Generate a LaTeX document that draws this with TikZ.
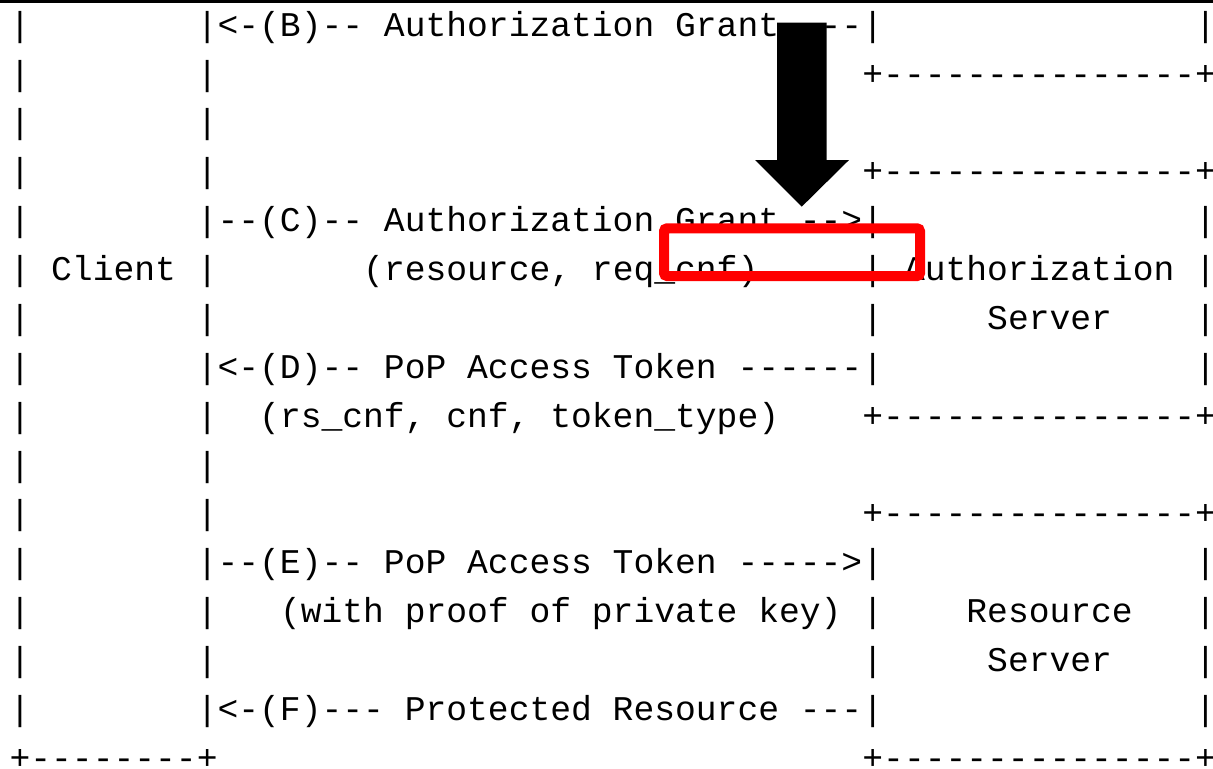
\documentclass[tikz,border=0pt]{standalone}
\usepackage{fontspec}
\setmonofont{Liberation Mono}
\tikzset{every picture/.style={line width=1pt}}
\tikzset{
  ascii/.style={anchor=base west, inner sep=0pt, outer sep=0pt,
                font=\ttfamily\fontsize{17.33pt}{20pt}\selectfont},
  redframe/.style={draw=red, line width=5pt, rounded corners=1.5pt},
}
\def\cw{20.8}  % width of one character
\def\lh{48.87} % height of one line
\def\xo{9.6}
\def\yo{36.2}

\begin{document}
\begin{tikzpicture}[x=0.5pt, y=-0.5pt]
  \useasboundingbox (0,0) rectangle (1213,768);
  \fill[black] (0,0) rectangle (1213,3.3);
  % client box
  \foreach \r in {0,...,14} {
      \node[ascii] (cl\r) at ({\xo},{\yo+\r*\lh}) {|};
      \node[ascii] (cr\r) at ({\xo+9*\cw},{\yo+\r*\lh}) {|};
  };
  \node[ascii] (cbot) at ({\xo},{\yo+15*\lh}) {+--------+};
  \node[ascii] (client) at ({\xo+2*\cw},{\yo+5*\lh}) {Client};
  % server boxes
  \foreach \r in {0,4,5,6,7,11,12,13,14} {
      \node[ascii] (sl\r) at ({\xo+41*\cw},{\yo+\r*\lh}) {|};
      \node[ascii] (sr\r) at ({\xo+57*\cw},{\yo+\r*\lh}) {|};
  };
  \foreach \r in {1,3,8,10,15} {
      \node[ascii] (edge\r) at ({\xo+41*\cw},{\yo+\r*\lh}) {+---------------+};
  };
  \node[ascii] (as1) at ({\xo+43*\cw},{\yo+5*\lh}) {Authorization};
  \node[ascii] (as2) at ({\xo+47*\cw},{\yo+6*\lh}) {Server};
  \node[ascii] (rs1) at ({\xo+46*\cw},{\yo+12*\lh}) {Resource};
  \node[ascii] (rs2) at ({\xo+47*\cw},{\yo+13*\lh}) {Server};
  % messages
  \foreach \c/\r/\t [count=\i] in {
      10/0/{<-(B)-- Authorization Grant ---},
      10/4/{--(C)-- Authorization Grant -->},
      17/5/{(resource, req\_cnf)},
      10/7/{<-(D)-- PoP Access Token ------},
      12/8/{(rs\_cnf, cnf, token\_type)},
      10/11/{--(E)-- PoP Access Token ----->},
      13/12/{(with proof of private key)},
      10/14/{<-(F)--- Protected Resource ---}} {
      \node[ascii] (msg\i) at ({\xo+\c*\cw},{\yo+\r*\lh}) {\t};
  };
  % highlight
  \fill[black] (777,22.7) -- (826.7,22.7) -- (826.7,160) -- (849,160)
      -- (801.7,206.7) -- (755,160) -- (777,160) -- cycle;
  \draw[redframe] (664,228.3) rectangle (920,276);
\end{tikzpicture}
\end{document}
